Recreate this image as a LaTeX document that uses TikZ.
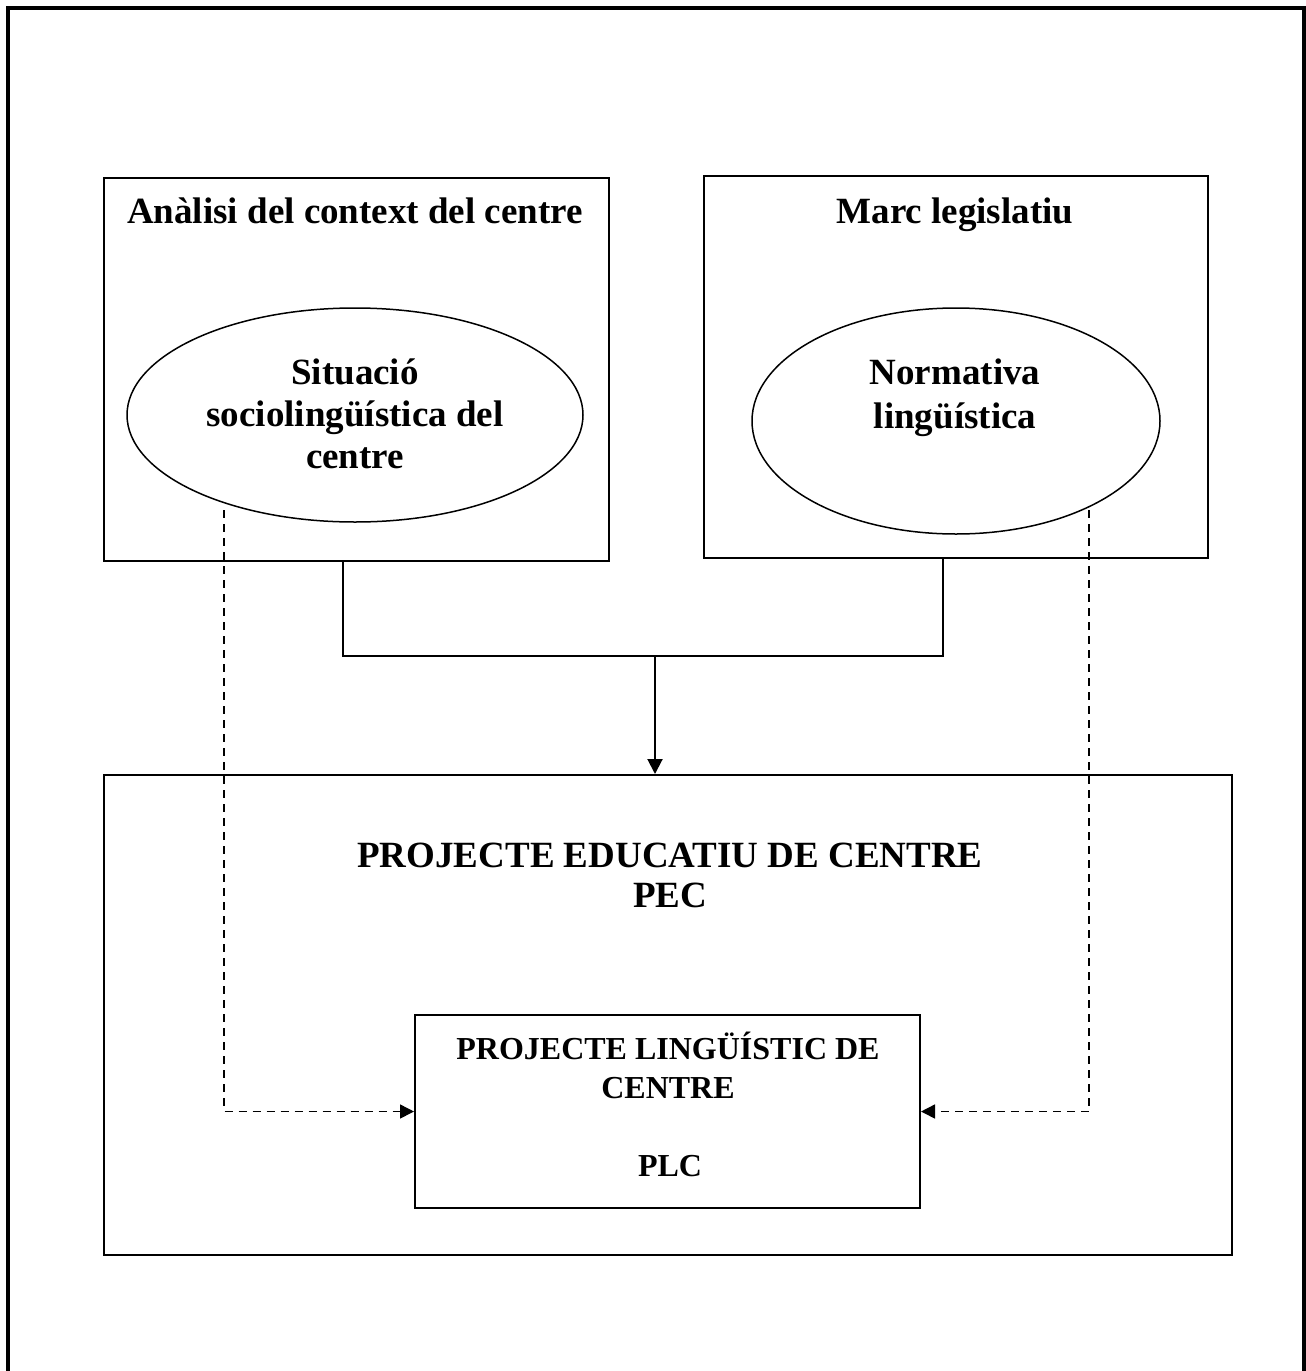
\documentclass[tikz,border=0pt]{standalone}
\usepackage{fontspec}
\setmainfont{Liberation Serif}
\usetikzlibrary{shapes.geometric,arrows.meta}
\begin{document}
\begin{tikzpicture}[x=1pt,y=-1pt,
  boxshape/.style={draw,line width=2pt,rectangle,inner sep=0pt},
  ellshape/.style={draw,line width=1.5pt,ellipse,inner sep=0pt},
  bigtext/.style={font=\fontsize{37}{42.5}\selectfont\bfseries,inner sep=0pt,anchor=base,align=center},
  midtext/.style={font=\fontsize{32}{39}\selectfont\bfseries,inner sep=0pt,anchor=base,align=center},
  conn/.style={line width=2pt},
  dashconn/.style={line width=1.5pt,dash pattern=on 8pt off 6pt,-{Triangle[length=14pt,width=14pt]}},
  ]
\useasboundingbox (0,0) rectangle (1306,1371);
% outer frame (open at the bottom)
\draw[line width=4pt] (8,1375) -- (8,8) -- (1304,8) -- (1304,1375);

% upper boxes
\node[boxshape,minimum width=505pt,minimum height=383pt] (boxA) at (356.5,369.5) {};
\node[boxshape,minimum width=504pt,minimum height=382pt] (boxB) at (956,367) {};
\node[bigtext] (titleA) at (355,223) {Anàlisi del context del centre};
\node[bigtext] (titleB) at (955,223) {Marc legislatiu};

% ellipses
\node[ellshape,minimum width=456pt,minimum height=214pt] (ellA) at (355,415) {};
\node[ellshape,minimum width=408pt,minimum height=226pt] (ellB) at (956,421) {};
\node[bigtext] (ellAtext1) at (355,384) {Situació};
\node[bigtext] (ellAtext2) at (355,426) {sociolingüística del};
\node[bigtext] (ellAtext3) at (355,468) {centre};
\node[bigtext] (ellBtext1) at (955,384) {Normativa};
\node[bigtext] (ellBtext2) at (955,428) {lingüística};

% lower boxes
\node[boxshape,minimum width=1128pt,minimum height=480pt] (pec) at (668,1015) {};
\node[bigtext] (pectext1) at (670,867) {PROJECTE EDUCATIU DE CENTRE};
\node[bigtext] (pectext2) at (670,907) {PEC};
\node[boxshape,minimum width=505pt,minimum height=193pt] (plc) at (667.5,1111.5) {};
\node[midtext] (plctext1) at (668,1059) {PROJECTE LINGÜÍSTIC DE};
\node[midtext] (plctext2) at (668,1098) {CENTRE};
\node[midtext] (plctext3) at (670,1176) {PLC};

% solid connectors
\coordinate (joint) at (655,656);
\draw[conn] ([xshift=240pt]boxA.south west) |- (joint) -| ([xshift=240pt]boxB.south west);
\draw[conn,-{Triangle[length=15pt,width=15pt]}] (joint) -- (joint |- pec.north);

% dashed connectors
\coordinate (dA) at (224,510);
\coordinate (dB) at (1089,510);
\draw[dashconn] (dA) |- (plc.west);
\draw[dashconn] (dB) |- (plc.east);
\end{tikzpicture}
\end{document}
